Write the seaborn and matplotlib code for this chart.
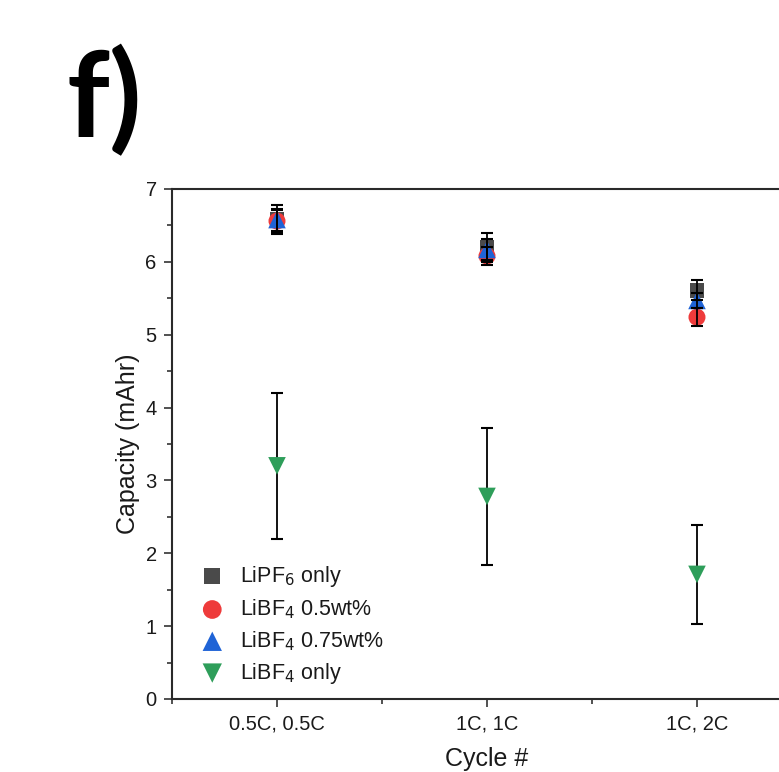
import pandas as pd
import matplotlib.pyplot as plt
import seaborn as sns
from matplotlib.ticker import MultipleLocator

cycles = ['0.5C, 0.5C', '1C, 1C', '1C, 2C']
series = ['LiPF$_6$ only', 'LiBF$_4$ 0.5wt%', 'LiBF$_4$ 0.75wt%', 'LiBF$_4$ only']
lipf6 = [6.58, 6.20, 5.61]
lipf6_err = [0.20, 0.20, 0.14]
libf4_05 = [6.56, 6.08, 5.24]
libf4_05_err = [0.15, 0.12, 0.12]
libf4_075 = [6.58, 6.17, 5.47]
libf4_075_err = [0.15, 0.15, 0.10]
libf4_only = [3.20, 2.78, 1.71]
libf4_only_err = [1.00, 0.94, 0.68]

vals = [lipf6, libf4_05, libf4_075, libf4_only]
errs = [lipf6_err, libf4_05_err, libf4_075_err, libf4_only_err]
rows = []
for s, v, e in zip(series, vals, errs):
    for c, y, err in zip(cycles, v, e):
        rows.append({'Cycle': c, 'Capacity': y, 'err': err, 'Series': s})
df = pd.DataFrame(rows)

colors = ['#4a4a4a', '#ee3b3b', '#1f63d6', '#2e9e5a']
markers = ['s', 'o', '^', 'v']
sizes = [110, 150, 160, 160]
bar_z = [4, 4, 4, 2]

sns.set_style('ticks')
plt.rcParams['font.family'] = ['Liberation Sans', 'DejaVu Sans']
plt.rcParams['text.color'] = '#1a1a1a'
plt.rcParams['axes.labelcolor'] = '#1a1a1a'
fig = plt.figure(figsize=(7.79, 7.72), dpi=100)
ax = fig.add_axes([0.2208, 0.0946, 0.8087, 0.6606])

pos = {c: i for i, c in enumerate(cycles)}
for s, col, m, sz, z in zip(series, colors, markers, sizes, bar_z):
    d = df[df.Series == s]
    ax.errorbar(d.Cycle.map(pos), d.Capacity, yerr=d.err, fmt='none',
                ecolor='black', elinewidth=1.3, capsize=4.5, capthick=1.5, zorder=z)
    sns.scatterplot(data=d, x=d.Cycle.map(pos), y='Capacity', marker=m, color=col,
                    s=sz, edgecolor='none', label=s, ax=ax, zorder=3)

ax.set_xlim(-0.5, 2.5)
ax.set_ylim(0, 7)
ax.set_xticks(range(len(cycles)))
ax.set_xticklabels(cycles)
ax.xaxis.set_minor_locator(MultipleLocator(1, offset=0.5))
ax.yaxis.set_major_locator(MultipleLocator(1))
ax.yaxis.set_minor_locator(MultipleLocator(0.5))
ax.tick_params(which='major', direction='out', length=6, width=1.2, labelsize=14.5,
               color='#333333', labelcolor='#1a1a1a', pad=5)
ax.tick_params(which='minor', direction='out', length=3.5, width=1.2, color='#333333')
for sp in ax.spines.values():
    sp.set_linewidth(1.5)
    sp.set_color('#2a2a2a')
ax.set_xlabel('Cycle #', fontsize=18, labelpad=10)
ax.set_ylabel('Capacity (mAhr)', fontsize=18, labelpad=4)

leg = ax.legend(loc='lower left', bbox_to_anchor=(-0.001, -0.012), frameon=False, fontsize=15.5,
                handletextpad=0.3, labelspacing=0.38, markerscale=1.1)

fig.text(0.085, 0.822, 'f)', fontsize=86, fontweight='bold', family='Lato', color='black')

plt.savefig('out.png', dpi=100)
